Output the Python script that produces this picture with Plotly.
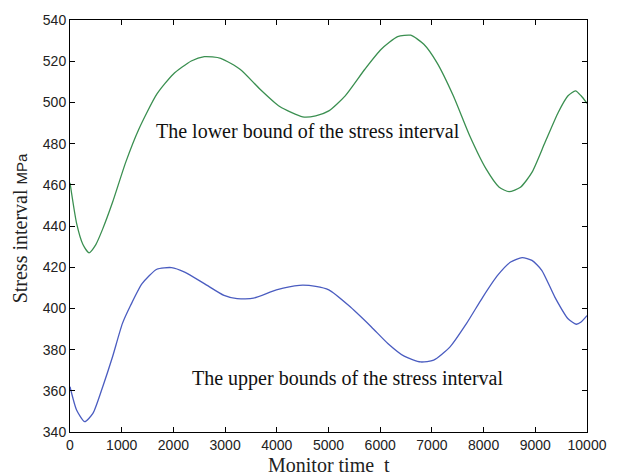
import plotly.graph_objects as go

# Lower bound of stress interval (green)
t_lower = [0, 130, 250, 367, 500, 633, 823, 1077, 1331, 1679, 1996, 2345, 2598, 2915, 3295,
           3676, 4056, 4500, 4753, 5006, 5323, 5703, 6020, 6337, 6590, 6844, 7097, 7414,
           7731, 8048, 8302, 8492, 8713, 8935, 9189, 9443, 9633, 9778, 9886, 10000]
v_lower = [461, 441, 431, 427, 431, 438.6, 451.5, 470.9, 487, 504, 513.7, 520.1, 522.2, 521.4, 516,
           506.4, 498, 493, 493.5, 495.9, 503.2, 516.1, 525.8, 531.9, 532.6, 528.2, 519.3, 503.2,
           483.8, 467.7, 458.8, 456.7, 458.8, 466, 480.6, 495.1, 503.2, 505.6, 503.2, 499.5]

# Upper bound of stress interval (blue)
t_upper = [0, 127, 285, 443, 633, 823, 1013, 1173, 1394, 1679, 1964, 2218, 2598, 2979, 3232,
           3549, 3992, 4436, 4753, 5006, 5386, 5830, 6147, 6464, 6781, 7034, 7351, 7668,
           7985, 8270, 8523, 8745, 8935, 9125, 9378, 9633, 9791, 9886, 10000]
v_upper = [362, 350.7, 345, 349, 362, 376.5, 392.6, 401.5, 412, 419, 419.8, 417.6, 412, 406.3, 404.7,
           405, 409, 411.2, 410.7, 409, 401.5, 391, 383, 376.8, 374, 374.9, 381.3, 392.6,
           405.5, 416, 422.5, 424.6, 423.3, 418.5, 405.5, 395, 392.3, 393.4, 396.5]

x_ticks = [0, 1000, 2000, 3000, 4000, 5000, 6000, 7000, 8000, 9000, 10000]
y_ticks = [340, 360, 380, 400, 420, 440, 460, 480, 500, 520, 540]

label_lower = "The lower bound of the stress interval"
label_upper = "The upper bounds of the stress interval"

fig = go.Figure()
fig.add_trace(go.Scatter(x=t_lower, y=v_lower, mode="lines", line=dict(color="#3a8f50", width=1.3, shape="spline", smoothing=0.6), showlegend=False))
fig.add_trace(go.Scatter(x=t_upper, y=v_upper, mode="lines", line=dict(color="#4a5cc0", width=1.3, shape="spline", smoothing=0.6), showlegend=False))

axis_common = dict(showline=True, linecolor="black", linewidth=1, mirror="ticks", ticks="inside",
                   ticklen=5, tickcolor="black", showgrid=False, zeroline=False,
                   tickfont=dict(family="Liberation Sans, Arial", size=14, color="#222"))

fig.update_xaxes(range=[0, 10000], tickvals=x_ticks, ticktext=[str(v) for v in x_ticks], **axis_common)
fig.update_yaxes(range=[340, 540], tickvals=y_ticks, ticktext=[str(v) for v in y_ticks], **axis_common)

fig.add_annotation(x=1616, y=486, xref="x", yref="y", text=label_lower, showarrow=False,
                   xanchor="left", yanchor="middle",
                   font=dict(family="Liberation Serif, Times New Roman", size=20, color="#111"))
fig.add_annotation(x=2319, y=366, xref="x", yref="y", text=label_upper, showarrow=False,
                   xanchor="left", yanchor="middle",
                   font=dict(family="Liberation Serif, Times New Roman", size=20, color="#111"))

fig.add_annotation(x=0.5, y=-0.08, xref="paper", yref="paper", text="Monitor time  t", showarrow=False,
                   xanchor="center", yanchor="middle",
                   font=dict(family="Liberation Serif, Times New Roman", size=20, color="#222"))
fig.add_annotation(x=-0.095, y=0.494, xref="paper", yref="paper",
                   text="Stress interval <span style='font-family:Liberation Sans, Arial;font-size:15px'>MPa</span>",
                   showarrow=False, textangle=-90, xanchor="center", yanchor="middle",
                   font=dict(family="Liberation Serif, Times New Roman", size=20, color="#222"))

fig.update_layout(width=619, height=475, margin=dict(l=70, r=23, t=19, b=43),
                  paper_bgcolor="white", plot_bgcolor="white")

fig.write_html("out.html", config={"responsive": False, "displayModeBar": False},
               post_script="document.body.style.margin='0';document.body.style.overflow='hidden';")
